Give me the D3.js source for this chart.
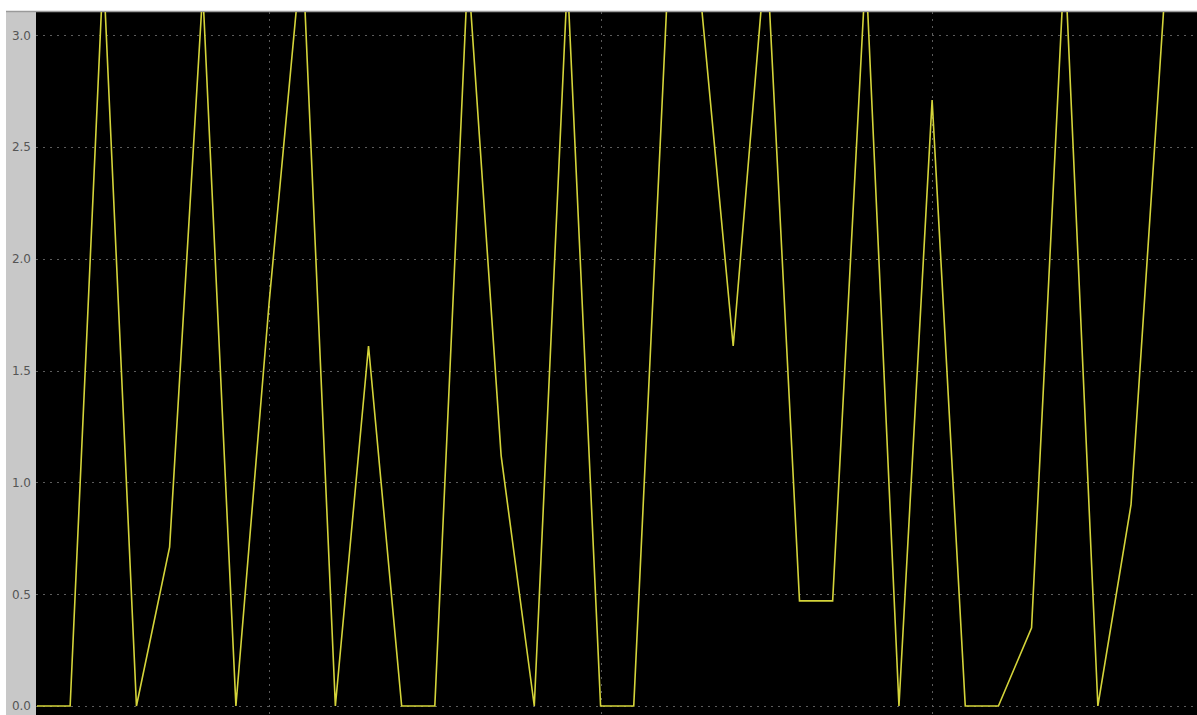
<!DOCTYPE html>
<html>
<head>
<meta charset="utf-8">
<script src="https://cdn.jsdelivr.net/npm/d3@7"></script>
<style>
  html, body { margin: 0; padding: 0; background: #ffffff; }
  svg { display: block; }
</style>
</head>
<body>
<svg id="chart" width="1197" height="715"></svg>
<script>
// ---- data ----
const xValues = [3,4,5,6,7,8,9,10,11,12,13,14,15,16,17,18,19,20,21,22,23,24,25,26,27,28,29,30,31,32,33,34,35,36,37];
const yValues = [0,0,3.3,0,0.71,3.2,0,1.8,3.4,0,1.61,0,0,3.3,1.12,0,3.25,0,0,3.15,3.2,1.61,3.4,0.47,0.47,3.3,0,2.71,0,0,0.35,3.35,0,0.9,3.15];
const yTicks = [0.0, 0.5, 1.0, 1.5, 2.0, 2.5, 3.0];
const xGrid = [10, 20, 30];

// ---- layout ----
const W = 1197, H = 715;
const plot = { left: 36, top: 12, right: 1197, bottom: 715 };

const svg = d3.select("#chart");

const x = d3.scaleLinear().domain([2.97, 37.99]).range([plot.left, plot.right]);
const y = d3.scaleLinear().domain([-0.0403, 3.1038]).range([plot.bottom, plot.top]);

// left label band
svg.append("rect").attr("x", 6).attr("y", plot.top).attr("width", plot.left - 6).attr("height", H - plot.top)
  .attr("fill", "#c8c8c8");

// plot background
svg.append("rect").attr("x", plot.left).attr("y", plot.top)
  .attr("width", plot.right - plot.left).attr("height", plot.bottom - plot.top)
  .attr("fill", "#000000");

// top border
svg.append("line").attr("x1", 6).attr("x2", W).attr("y1", plot.top - 0.5).attr("y2", plot.top - 0.5)
  .attr("stroke", "#9a9a9a").attr("stroke-width", 1.5);

// grid
const grid = svg.append("g");
grid.selectAll("line.h").data(yTicks).join("line").attr("class", "h")
  .attr("x1", plot.left).attr("x2", plot.right)
  .attr("y1", d => Math.round(y(d)) + 0.5).attr("y2", d => Math.round(y(d)) + 0.5)
  .attr("stroke", "#5c5c5c").attr("stroke-width", 1).attr("stroke-dasharray", "2,5");
grid.selectAll("line.v").data(xGrid).join("line").attr("class", "v")
  .attr("x1", d => Math.round(x(d)) + 0.5).attr("x2", d => Math.round(x(d)) + 0.5)
  .attr("y1", plot.top).attr("y2", plot.bottom)
  .attr("stroke", "#5c5c5c").attr("stroke-width", 1).attr("stroke-dasharray", "2,5");

// y axis labels
const yAxis = d3.axisLeft(y).tickValues(yTicks).tickFormat(d3.format(".1f")).tickSize(0).tickPadding(5);
const ag = svg.append("g").attr("transform", `translate(${plot.left},0)`).call(yAxis);
ag.select(".domain").remove();
ag.selectAll("text").attr("fill", "#555555").style("font-family", "DejaVu Sans, sans-serif").style("font-size", "12px");

// clip
svg.append("clipPath").attr("id", "clip").append("rect")
  .attr("x", plot.left).attr("y", plot.top)
  .attr("width", plot.right - plot.left).attr("height", plot.bottom - plot.top);

const data = xValues.map((xv, i) => ({ x: xv, y: yValues[i] }));
const line = d3.line().x(d => x(d.x)).y(d => y(d.y));

svg.append("path").datum(data).attr("clip-path", "url(#clip)")
  .attr("d", line).attr("fill", "none")
  .attr("stroke", "#d4d43a").attr("stroke-width", 1.6).attr("stroke-linejoin", "miter");
</script>
</body>
</html>
